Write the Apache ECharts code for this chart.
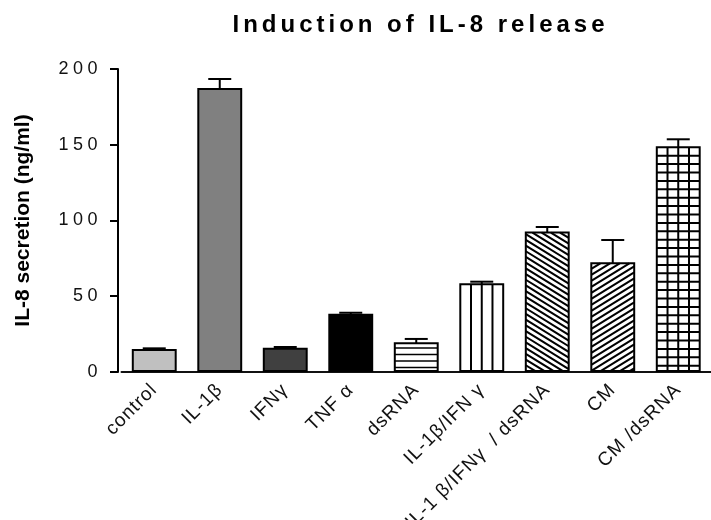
<!DOCTYPE html>
<html>
<head>
<meta charset="utf-8">
<script src="https://cdn.jsdelivr.net/npm/echarts@6/dist/echarts.min.js"></script>
<style>
  html, body { margin: 0; padding: 0; background: #fff; }
  #chart { width: 711px; height: 520px; }
</style>
</head>
<body>
<div id="chart"></div>
<script>
// ---- data ----
const categories = ['control', 'IL-1β', 'IFNγ', 'TNF α', 'dsRNA', 'IL-1β/IFN γ', 'IL-1 β/IFNγ  / dsRNA', 'CM', 'CM /dsRNA'];
const means = [14.5, 186.8, 15.4, 37.8, 18.9, 57.9, 92.0, 71.7, 148.3];
const errors = [1.1, 6.6, 1.1, 1.3, 2.9, 1.7, 3.7, 15.4, 5.3];
const yTicks = [0, 50, 100, 150, 200];
// fill style per bar
const fills = ['#c0c0c0', '#808080', '#404040', '#000000', 'hlines', 'vlines', 'backslash', 'slash', 'grid'];

// letter-spacing support: font family token "lsN" (N px, '_' as decimal point)
(function () {
  const proto = CanvasRenderingContext2D.prototype;
  const orig = proto.fillText;
  proto.fillText = function (t, x, y, mw) {
    const m = /ls(\d+(?:_\d+)?)/.exec(this.font || '');
    const prev = this.letterSpacing;
    if ('letterSpacing' in this) this.letterSpacing = m ? m[1].replace('_', '.') + 'px' : '0px';
    const r = mw === undefined ? orig.call(this, t, x, y) : orig.call(this, t, x, y, mw);
    if ('letterSpacing' in this) this.letterSpacing = prev;
    return r;
  };
})();

const chart = echarts.init(document.getElementById('chart'), null, { renderer: 'canvas' });

function hatchChildren(kind, x0, y0, x1, y1) {
  const out = [];
  const ls = { stroke: '#000', lineWidth: 2 };
  const w = x1 - x0;
  if (kind === 'hlines') {
    for (let y = y1 - 3.5; y > y0 + 2; y -= 6.5) {
      out.push({ type: 'line', shape: { x1: x0, y1: y, x2: x1, y2: y }, style: Object.assign({}, ls, { lineWidth: 1.6 }) });
    }
  } else if (kind === 'vlines') {
    for (let k = 1; k < 4; k++) {
      const x = x0 + w * k / 4;
      out.push({ type: 'line', shape: { x1: x, y1: y0, x2: x, y2: y1 }, style: ls });
    }
  } else if (kind === 'grid') {
    for (let k = 1; k < 4; k++) {
      const x = x0 + w * k / 4;
      out.push({ type: 'line', shape: { x1: x, y1: y0, x2: x, y2: y1 }, style: ls });
    }
    for (let y = y0 + 8.4; y < y1 - 1; y += 8.4) {
      out.push({ type: 'line', shape: { x1: x0, y1: y, x2: x1, y2: y }, style: ls });
    }
  } else if (kind === 'backslash') {
    const s = 0.62, sp = 5.7;
    // y = c + s*(x-x0), anchored to bar bottom
    for (let c = y1; c >= y0 - s * w - sp; c -= sp) {
      const xa = Math.max(x0, x0 + (y0 - c) / s);
      const xb = Math.min(x1, x0 + (y1 - c) / s);
      if (xb - xa > 0.5) out.push({ type: 'line', shape: { x1: xa, y1: c + s * (xa - x0), x2: xb, y2: c + s * (xb - x0) }, style: ls });
    }
  } else if (kind === 'slash') {
    const s = 0.62, sp = 6.0;
    // y = c - s*(x-x0), anchored to bar bottom
    for (let c = y1 + Math.ceil(s * w / sp) * sp; c >= y0 - sp; c -= sp) {
      const xa = Math.max(x0, x0 + (c - y1) / s);
      const xb = Math.min(x1, x0 + (c - y0) / s);
      if (xb - xa > 0.5) out.push({ type: 'line', shape: { x1: xa, y1: c - s * (xa - x0), x2: xb, y2: c - s * (xb - x0) }, style: ls });
    }
  }
  return out;
}

const option = {
  animation: false,
  backgroundColor: '#fff',
  title: {
    text: 'Induction of IL-8 release',
    left: 415.5,
    top: 8,
    textAlign: 'center',
    textStyle: { fontFamily: 'ls4, Liberation Sans, Arial', fontWeight: 'bold', fontSize: 24, color: '#000' }
  },
  grid: { left: 121.5, top: 69, width: 597.5, bottom: 148 },
  xAxis: {
    type: 'category',
    data: categories,
    axisLine: { lineStyle: { color: '#111', width: 2 } },
    axisTick: { show: false },
    axisLabel: {
      interval: 0,
      rotate: 45,
      margin: 15,
      fontFamily: 'ls1, Liberation Sans, Arial',
      fontSize: 19,
      color: '#111'
    }
  },
  yAxis: {
    type: 'value',
    min: 0,
    max: 200,
    interval: 50,
    offset: 3.5,
    name: 'IL-8 secretion (ng/ml)',
    nameLocation: 'middle',
    nameGap: 84,
    nameTextStyle: { fontFamily: 'Liberation Sans, Arial', fontWeight: 'bold', fontSize: 21, color: '#000' },
    splitLine: { show: false },
    axisLine: { show: true, lineStyle: { color: '#000', width: 2 } },
    axisTick: { show: true, length: 8, lineStyle: { color: '#000', width: 2 } },
    axisLabel: {
      margin: 16,
      fontFamily: 'ls4_5, Liberation Sans, Arial',
      fontSize: 18,
      color: '#111',
      formatter: function (v) { return yTicks.indexOf(v) >= 0 ? String(v) : ''; }
    }
  },
  series: [{
    type: 'custom',
    data: means.map((m, i) => [i, m, errors[i]]),
    encode: { x: 0, y: 1 },
    clip: false,
    renderItem: function (params, api) {
      const i = api.value(0), v = api.value(1), e = api.value(2);
      const top = api.coord([i, v]);
      const base = api.coord([i, 0]);
      const errTop = api.coord([i, v + e]);
      const band = api.size([1, 0])[0];
      const w = band * 0.655;
      const cx = top[0];
      const x0 = cx - w / 2, x1 = cx + w / 2, y0 = top[1], y1 = base[1] - 1;
      const f = fills[i];
      const children = [];
      children.push({ type: 'rect', shape: { x: x0, y: y0, width: w, height: y1 - y0 }, style: { fill: f.charAt(0) === '#' ? f : '#fff' } });
      if (f.charAt(0) !== '#') children.push.apply(children, hatchChildren(f, x0, y0, x1, y1));
      children.push({ type: 'rect', shape: { x: x0, y: y0, width: w, height: y1 - y0 }, style: { fill: null, stroke: '#000', lineWidth: 2 } });
      // error bar (upper)
      children.push({ type: 'line', shape: { x1: cx, y1: y0, x2: cx, y2: errTop[1] }, style: { stroke: '#000', lineWidth: 2 } });
      children.push({ type: 'line', shape: { x1: cx - 11.5, y1: errTop[1], x2: cx + 11.5, y2: errTop[1] }, style: { stroke: '#000', lineWidth: 2 } });
      return { type: 'group', children: children };
    }
  }]
};
chart.setOption(option);
</script>
</body>
</html>
